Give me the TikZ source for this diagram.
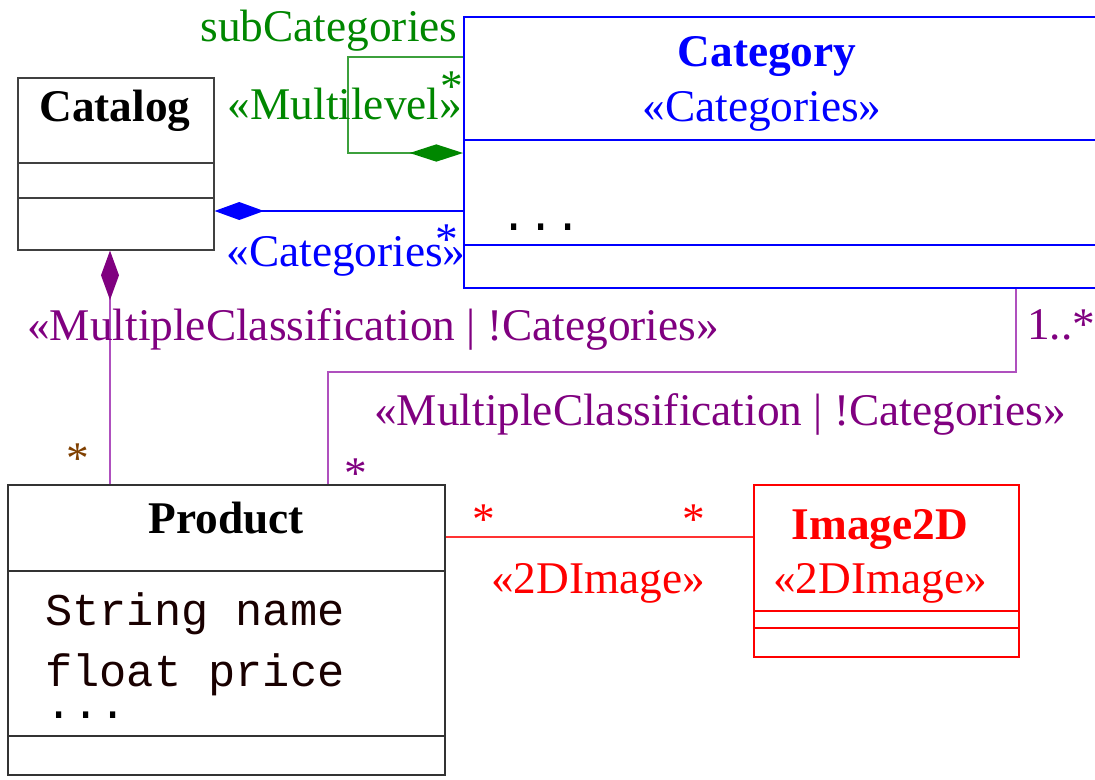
\documentclass[tikz,border=0pt]{standalone}
\usepackage{fontspec}
\setmainfont{Liberation Serif}
\setmonofont{Liberation Mono}
\usetikzlibrary{arrows.meta}
\definecolor{cblue}{RGB}{0,0,255}
\definecolor{cgreen}{RGB}{0,135,0}
\definecolor{cgreenline}{RGB}{60,160,60}
\definecolor{cpurple}{RGB}{128,0,128}
\definecolor{cpurpleline}{RGB}{175,80,190}
\definecolor{cred}{RGB}{255,0,0}
\definecolor{cbrown}{RGB}{128,64,0}
\newcommand\mystar{\raisebox{-0.3em}[0.4em][0pt]{*}}
\newcommand\mydots{\raisebox{0pt}[0.12em][0pt]{...}}
\begin{document}
\begin{tikzpicture}[x=0.75pt,y=-0.75pt,
  every node/.style={inner sep=0pt, font=\fontsize{34}{40}\selectfont},
  classbox/.style={draw, line width=1.2pt, rectangle, anchor=north west, inner sep=0pt},
  sepline/.style={line width=1.2pt},
  conn/.style={line width=1.2pt},
  comp/.style={{Diamond[length=37pt,width=13.5pt]}-},
  mono/.style={font=\fontsize{34}{40}\selectfont\ttfamily}
]
\useasboundingbox (0,0) rectangle (1095,779);
\fill[white] (0,0) rectangle (1095,779);

% class boxes
\node[classbox, black!75, minimum width=147pt, minimum height=129pt] (catalog) at (17,77) {};
\node[classbox, cblue, minimum width=480pt, minimum height=203.25pt] (category) at (463,16) {};
\node[classbox, black!80, minimum width=327.75pt, minimum height=217.5pt] (product) at (7,484) {};
\node[classbox, cred, minimum width=198.75pt, minimum height=129pt] (image) at (753,484) {};

% compartments
\draw[black!75, sepline] (catalog.west |- 0,163) -- (catalog.east |- 0,163);
\draw[black!75, sepline] (catalog.west |- 0,198) -- (catalog.east |- 0,198);
\draw[cblue, sepline] (category.west |- 0,140) -- (category.east |- 0,140);
\draw[cblue, sepline] (category.west |- 0,245) -- (category.east |- 0,245);
\draw[black!80, sepline] (product.west |- 0,571) -- (product.east |- 0,571);
\draw[black!80, sepline] (product.west |- 0,736) -- (product.east |- 0,736);
\draw[cred, sepline] (image.west |- 0,611) -- (image.east |- 0,611);
\draw[cred, sepline] (image.west |- 0,628) -- (image.east |- 0,628);

% class texts
\node[font=\fontsize{34}{40}\selectfont\bfseries] (catalogname) at (115,111) {Catalog};
\node[font=\fontsize{34}{40}\selectfont\bfseries, text=cblue] (categoryname) at (767,56) {Category};
\node[text=cblue] (categoryst) at (762,111) {«Categories»};
\node[mono, anchor=west] (categorydots) at (500,228) {\mydots};
\node[font=\fontsize{34}{40}\selectfont\bfseries] (productname) at (226,518) {Product};
\node[mono, anchor=west, text=black!90!red] (attr1) at (45,614) {String name};
\node[mono, anchor=west, text=black!90!red, text depth=0.15em] (attr2) at (45,671) {float price};
\node[mono, anchor=west] (attr3) at (45,716) {\mydots};
\node[font=\fontsize{34}{40}\selectfont\bfseries, text=cred] (imagename) at (880,529) {Image2D};
\node[text=cred] (imagest) at (880,583) {«2DImage»};

% connectors
\draw[conn, cblue, comp] (catalog.east |- 0,211) -- (category.west |- 0,211);
\draw[conn, cgreenline, {Diamond[length=40pt,width=13pt,color=cgreen]}-] (category.west |- 0,153) -| (348,57) -- (category.west |- 0,57);
\draw[conn, cpurpleline, {Diamond[length=37pt,width=13.5pt,color=cpurple]}-] (catalog.south -| 110,0) -- (product.north -| 110,0);
\draw[conn, cpurpleline] (category.south -| 1016,0) |- (328,372) -- (product.north -| 328,0);
\draw[conn, cred!80] (product.east |- 0,537) -- (image.west |- 0,537);

% connector labels
\node[text=cgreen] (subcat) at (329,31) {subCategories};
\node[text=cgreen] (multilevel) at (345,104) {«Multilevel»};
\node[text=cgreen] (greenstar) at (452,79) {\mystar};
\node[text=cblue] (catlabel) at (346,256) {«Categories»};
\node[text=cblue] (bluestar) at (447,232) {\mystar};
\node[text=cpurple] (mc1) at (373,329) {«MultipleClassification | !Categories»};
\node[text=cbrown] (brownstar) at (78,451) {\mystar};
\node[text=cpurple] (onemany) at (1061,325) {1..*};
\node[text=cpurple] (mc2) at (720,414) {«MultipleClassification | !Categories»};
\node[text=cpurple] (purplestar) at (356,466) {\mystar};
\node[text=cred] (redstar1) at (484,512) {\mystar};
\node[text=cred] (redstar2) at (694,512) {\mystar};
\node[text=cred] (imglabel) at (598,583) {«2DImage»};
\end{tikzpicture}
\end{document}
